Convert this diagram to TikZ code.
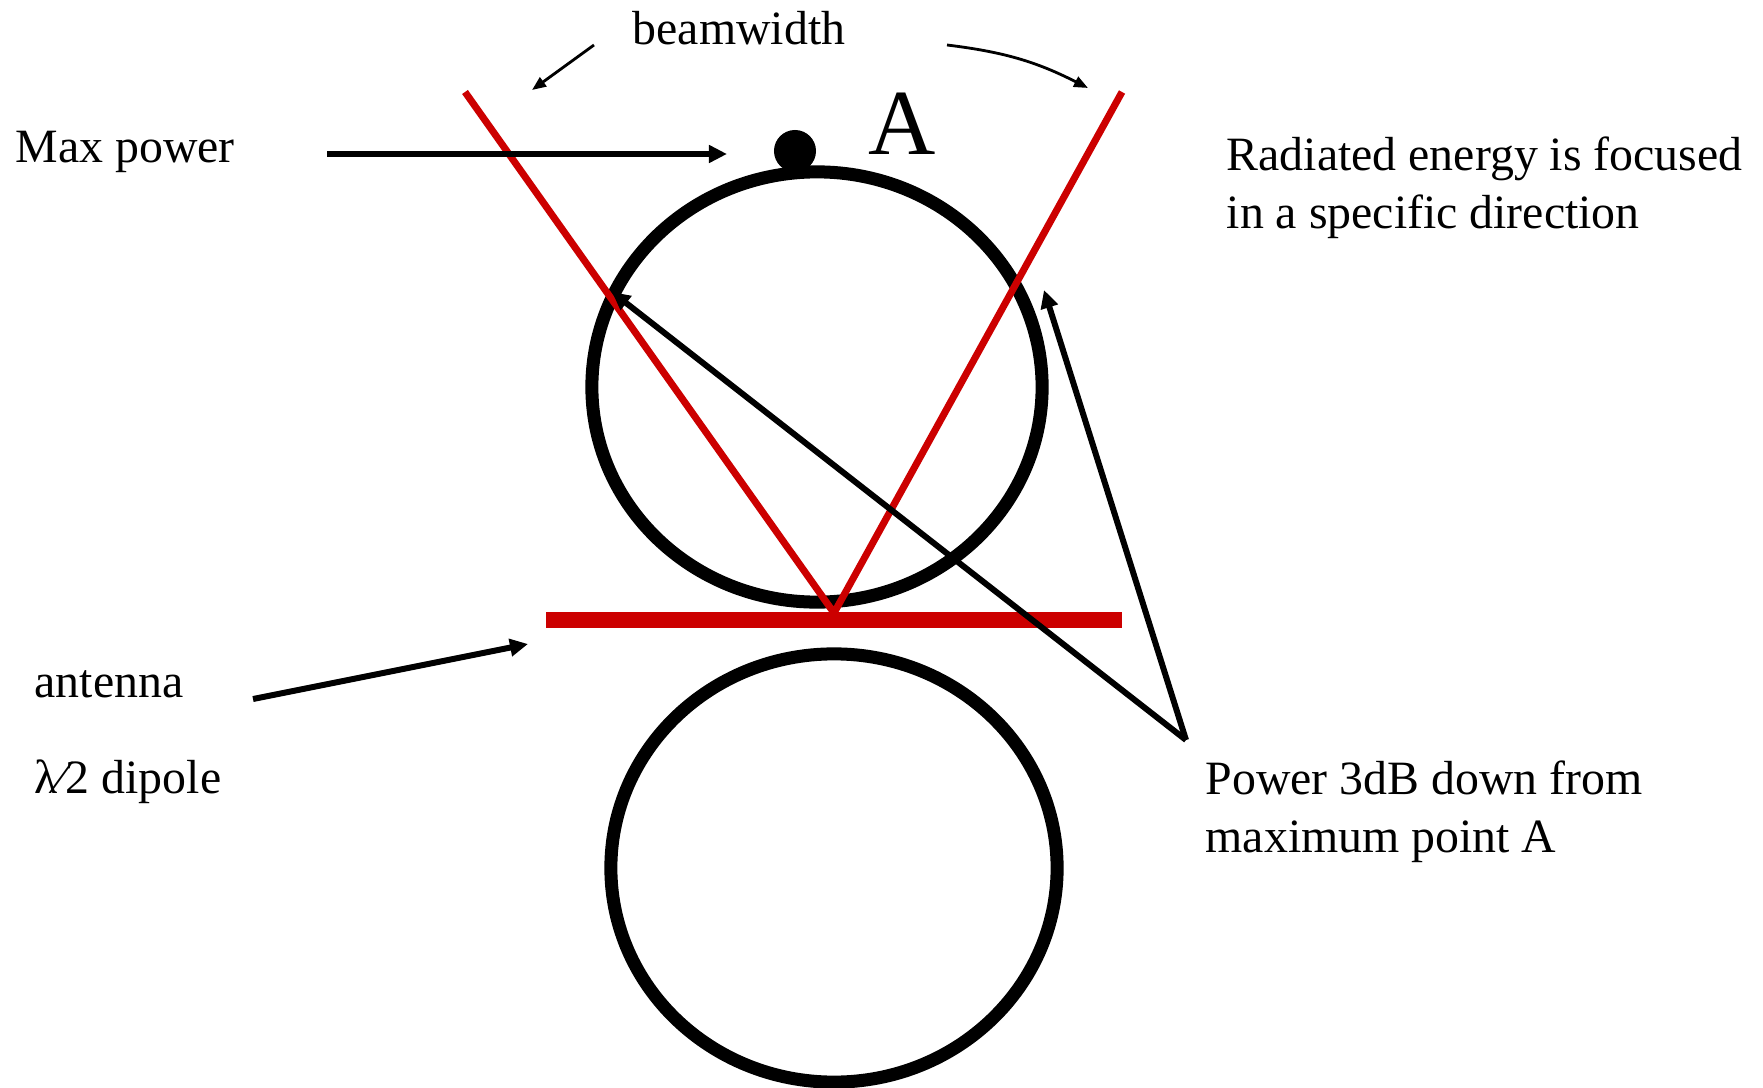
\documentclass[tikz,border=0pt]{standalone}
\usepackage{fontspec}
\setmainfont{Liberation Serif}
\usetikzlibrary{arrows.meta,positioning,shapes.geometric}
\definecolor{beamred}{HTML}{CC0000}

\begin{document}
\begin{tikzpicture}[x=0.01cm,y=-0.01cm,
  font=\fontsize{13.6}{16.5}\selectfont,
  lbl/.style={anchor=base west,inner sep=0pt},
  txt/.style={anchor=north west,inner sep=0pt,align=left},
  lobe/.style={draw,ellipse,line width=3.7pt,inner sep=0pt},
  beam/.style={line width=2pt,color=beamred},
  arr/.style={-{Triangle[length=1.8mm,width=1.7mm]},line width=1.7pt},
  note/.style={-{Triangle[length=1.4mm,width=1.1mm]},line width=0.8pt}]
\useasboundingbox (0,0) rectangle (1763,1088);
% radiation lobes
\node[lobe,minimum width=4.5cm,minimum height=4.3cm] (upper) at (817,387) {};
\node[lobe,minimum width=4.46cm,minimum height=4.28cm] (lower) at (834,868) {};
\node[circle,fill,inner sep=0pt,minimum size=0.42cm] (dotA) at (795,151) {};
% dipole and beam edges
\node[fill=beamred,inner sep=0pt,minimum width=5.76cm,minimum height=0.16cm] (dipole) at (834,620) {};
\coordinate (feed) at (834,613);
\coordinate (beamL) at (465,92);
\coordinate (beamR) at (1122,92);
\draw[beam] (beamL) -- (feed) -- (beamR);
% labels
\node[lbl] (beamw) at (632,45) {beamwidth};
\node[lbl] (maxp) at (15,163) {Max power};
\node[lbl,font=\fontsize{26.5}{30}\selectfont] (ptA) at (868,155) {A};
\node[txt] (focus) at (1226,136) {Radiated energy is focused\\in a specific direction};
\node[lbl] (ant) at (34,697) {antenna};
\node[lbl] (dip) at (34,793) {λ⁄2 dipole};
\node[txt] (down) at (1205,760) {Power 3dB down from\\maximum point A};
% arrows
\coordinate (maxtail) at (327,154);
\coordinate (maxtip) at (727,154);
\draw[arr] (maxtail) -- (maxtip);
\coordinate (bwL1) at (594,45);
\coordinate (bwL2) at (532,90);
\coordinate (bwR1) at (947,45);
\coordinate (bwR2) at (1088,88);
\draw[note] (bwL1) -- (bwL2);
\draw[note] (bwR1) to[bend left=10] (bwR2);
\coordinate (anttail) at (253,699);
\coordinate (anttip) at (528,644);
\draw[arr] (anttail) -- (anttip);
\coordinate (p3db) at (1186,740);
\coordinate (halfL) at (612,292);
\coordinate (halfR) at (1044,290);
\draw[arr] (p3db) -- (halfL);
\draw[arr] (p3db) -- (halfR);
\end{tikzpicture}
\end{document}
